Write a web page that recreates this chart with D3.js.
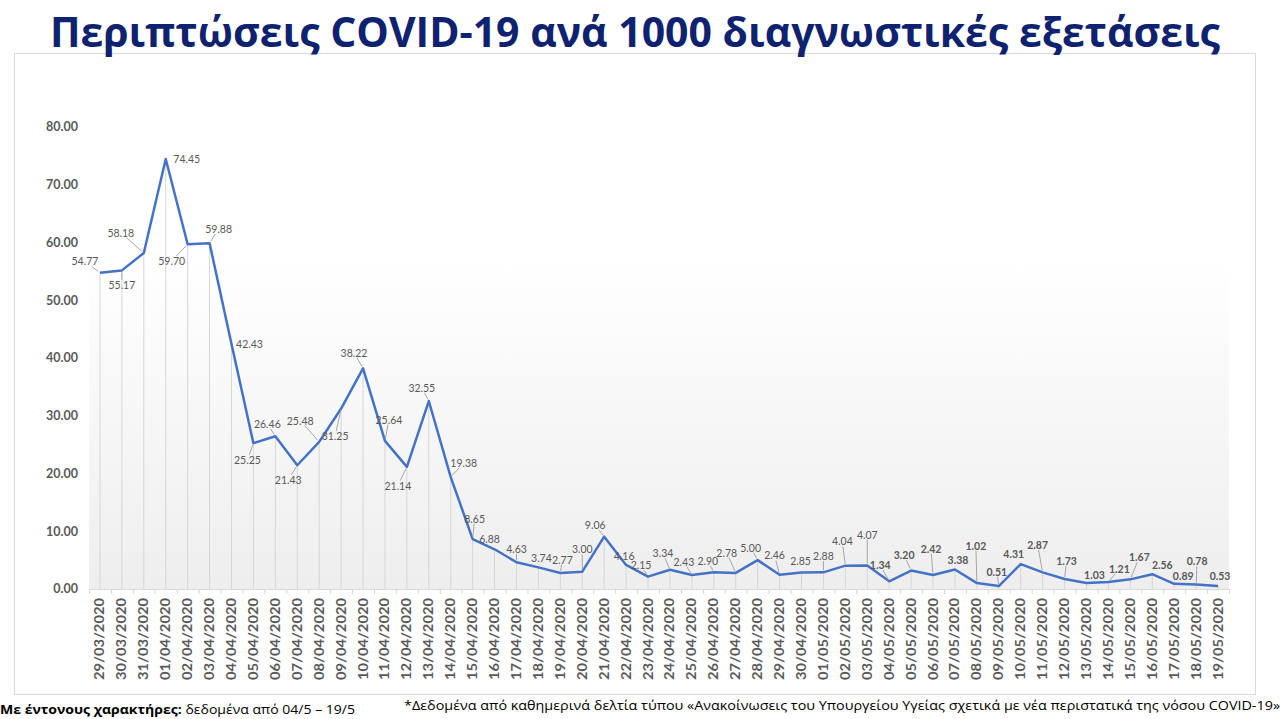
<!DOCTYPE html>
<html>
<head>
<meta charset="utf-8">
<script src="https://cdn.jsdelivr.net/npm/d3@7"></script>
<style>
  body { margin: 0; background: #fff; }
  svg { display: block; font-family: Lato, "Open Sans", "DejaVu Sans", sans-serif; }
</style>
</head>
<body>
<svg id="chart" width="1280" height="719"></svg>
<script>
// ========================
// Data
// ========================
const dates = [
    "29/03/2020", "30/03/2020", "31/03/2020",
    "01/04/2020", "02/04/2020", "03/04/2020", "04/04/2020", "05/04/2020", "06/04/2020",
    "07/04/2020", "08/04/2020", "09/04/2020", "10/04/2020", "11/04/2020", "12/04/2020",
    "13/04/2020", "14/04/2020", "15/04/2020", "16/04/2020", "17/04/2020", "18/04/2020",
    "19/04/2020", "20/04/2020", "21/04/2020", "22/04/2020", "23/04/2020", "24/04/2020",
    "25/04/2020", "26/04/2020", "27/04/2020", "28/04/2020", "29/04/2020", "30/04/2020",
    "01/05/2020", "02/05/2020", "03/05/2020", "04/05/2020", "05/05/2020", "06/05/2020",
    "07/05/2020", "08/05/2020", "09/05/2020", "10/05/2020", "11/05/2020", "12/05/2020",
    "13/05/2020", "14/05/2020", "15/05/2020", "16/05/2020", "17/05/2020", "18/05/2020",
    "19/05/2020"
];

const casesPer1000 = [
    54.77, 55.17, 58.18,
    74.45, 59.70, 59.88, 42.43, 25.25, 26.46,
    21.43, 25.48, 31.25, 38.22, 25.64, 21.14,
    32.55, 19.38, 8.65, 6.88, 4.63, 3.74,
    2.77, 3.00, 9.06, 4.16, 2.15, 3.34,
    2.43, 2.90, 2.78, 5.00, 2.46, 2.85,
    2.88, 4.04, 4.07, 1.34, 3.20, 2.42,
    3.38, 1.02, 0.51, 4.31, 2.87, 1.73,
    1.03, 1.21, 1.67, 2.56, 0.89, 0.78,
    0.53
];

const yTicks = [0, 10, 20, 30, 40, 50, 60, 70, 80];

// first date shown in bold labels
const boldFrom = "04/05/2020";

const titleText = "Περιπτώσεις COVID-19 ανά 1000 διαγνωστικές εξετάσεις";
const noteBold = "Με έντονους χαρακτήρες:";
const noteRest = " δεδομένα από 04/5 – 19/5";
const sourceText = "*Δεδομένα από καθημερινά δελτία τύπου «Ανακοίνωσεις του Υπουργείου Υγείας σχετικά με νέα περιστατικά της νόσου COVID-19»";

// label placement (dx, dy from the point, in px) - layout only
const labelOffsets = [
    [-15, -11], [0, 15], [-23, -20],
    [21, 0], [-16, 17], [9, -14], [18, 0], [-6, 17], [-8, -12],
    [-9, 15], [-19, -21], [-6, 28], [-9, -15], [4, -21], [-9, 19],
    [-7, -13], [13, -14], [2, -20], [-5, -10], [0, -13], [3, -9],
    [2, -13], [0, -22], [-9, -11], [-2, -9], [-7, -11], [-7, -16],
    [-8, -13], [-6, -11], [-9, -20], [-7, -12], [-5, -19], [-1, -11],
    [0, -16], [-3, -24], [0, -30], [-9, -16], [-7, -15], [-2, -26],
    [3, -9], [-1, -37], [-2, -14], [-7, -10], [-5, -27], [2, -18],
    [8, -8], [11, -13], [9, -22], [10, -9], [9, -8], [1, -23],
    [2, -10]
];

const points = dates.map((d, i) => ({ date: d, value: casesPer1000[i], i }));
const boldIndex = dates.indexOf(boldFrom);

// ========================
// Setup
// ========================
const svg = d3.select("#chart");
const textGrey = "#595959";

const x = d3.scaleBand()
    .domain(dates)
    .range([89, 1229]);

const y = d3.scaleLinear()
    .domain([0, 80])
    .range([589, 127]);

const cx = d => x(d.date) + x.bandwidth() / 2;
const cy = d => y(d.value);

// gradient for plot background
const defs = svg.append("defs");
const grad = defs.append("linearGradient")
    .attr("id", "bg")
    .attr("x1", 0).attr("y1", 0).attr("x2", 0).attr("y2", 1);
grad.append("stop").attr("offset", "0%").attr("stop-color", "#ffffff");
grad.append("stop").attr("offset", "30%").attr("stop-color", "#ffffff");
grad.append("stop").attr("offset", "100%").attr("stop-color", "#eeeeee");

// outer frame
svg.append("rect")
    .attr("x", 14.5).attr("y", 53.5)
    .attr("width", 1241).attr("height", 641)
    .attr("fill", "#fff")
    .attr("stroke", "#d9d9d9");

// plot area
svg.append("rect")
    .attr("x", x.range()[0]).attr("y", 120)
    .attr("width", x.range()[1] - x.range()[0])
    .attr("height", y(0) - 120)
    .attr("fill", "url(#bg)");

// Title
svg.append("text")
    .attr("x", 50).attr("y", 47)
    .attr("textLength", 1170)
    .attr("lengthAdjust", "spacingAndGlyphs")
    .style("font-family", "'Open Sans', sans-serif")
    .style("font-size", "42px")
    .style("font-weight", "bold")
    .style("fill", "#0e2270")
    .text(titleText);

// drop lines
svg.append("g")
    .selectAll("line")
    .data(points)
    .enter()
    .append("line")
    .attr("x1", cx).attr("x2", cx)
    .attr("y1", cy).attr("y2", y(0))
    .attr("stroke", "#d6d6d6")
    .attr("stroke-width", 1);

// Y axis labels
svg.append("g")
    .selectAll("text")
    .data(yTicks)
    .enter()
    .append("text")
    .attr("x", 78)
    .attr("y", d => y(d))
    .attr("dy", "0.35em")
    .attr("text-anchor", "end")
    .style("font-size", "12.5px")
    .style("font-weight", "bold")
    .style("fill", textGrey)
    .text(d => d.toFixed(2));

// X axis
const xAxis = svg.append("g")
    .attr("transform", `translate(0, ${y(0)})`);

xAxis.append("line")
    .attr("x1", x.range()[0]).attr("x2", x.range()[1])
    .attr("y1", 0.5).attr("y2", 0.5)
    .attr("stroke", "#d9d9d9");

xAxis.selectAll(".tick")
    .data(dates.concat(["end"]))
    .enter()
    .append("line")
    .attr("x1", (d, i) => x.range()[0] + i * x.step() + 0.5)
    .attr("x2", (d, i) => x.range()[0] + i * x.step() + 0.5)
    .attr("y1", 0).attr("y2", 5)
    .attr("stroke", "#d9d9d9");

xAxis.selectAll(".xl")
    .data(dates)
    .enter()
    .append("text")
    .attr("transform", d => `translate(${x(d) + x.bandwidth() / 2 + 4.5}, 9) rotate(-90)`)
    .attr("text-anchor", "end")
    .attr("textLength", 82)
    .attr("lengthAdjust", "spacingAndGlyphs")
    .style("font-size", "13.5px")
    .style("font-weight", "bold")
    .style("fill", textGrey)
    .text(d => d);

// line
const line = d3.line().x(cx).y(cy);
svg.append("path")
    .datum(points)
    .attr("d", line)
    .attr("fill", "none")
    .attr("stroke", "#4472c4")
    .attr("stroke-width", 2.5)
    .attr("stroke-linejoin", "round");

// data labels
const labelG = svg.append("g");
const leaderG = labelG.append("g");

const labels = labelG.selectAll(".lbl")
    .data(points)
    .enter()
    .append("text")
    .attr("x", d => cx(d) + labelOffsets[d.i][0])
    .attr("y", d => cy(d) + labelOffsets[d.i][1])
    .attr("dy", "0.35em")
    .attr("text-anchor", "middle")
    .style("font-size", "10.5px")
    .style("font-weight", d => d.i >= boldIndex ? "bold" : "normal")
    .style("fill", textGrey)
    .text(d => d.value.toFixed(2));

// leader lines for labels that sit away from their point
labels.each(function (d) {
    const b = this.getBBox();
    const px = cx(d), py = cy(d);
    const lx = b.x + b.width / 2, ly = b.y + b.height / 2;
    const hw = b.width / 2 + 1, hh = b.height / 2 - 1;
    const dx = px - lx, dy = py - ly;
    const t = Math.min(
        dx !== 0 ? hw / Math.abs(dx) : Infinity,
        dy !== 0 ? hh / Math.abs(dy) : Infinity
    );
    if (t >= 1) return;
    const sx = lx + dx * t, sy = ly + dy * t;
    const len = Math.hypot(px - sx, py - sy);
    if (len < 7) return;
    leaderG.append("line")
        .attr("x1", sx).attr("y1", sy)
        .attr("x2", px - (px - sx) / len * 2)
        .attr("y2", py - (py - sy) / len * 2)
        .attr("stroke", "#a6a6a6")
        .attr("stroke-width", 1);
});

// Footer notes
const note = svg.append("text")
    .attr("x", 0).attr("y", 714)
    .attr("textLength", 355)
    .attr("lengthAdjust", "spacingAndGlyphs")
    .style("font-family", "'Open Sans', sans-serif")
    .style("font-size", "13px")
    .style("fill", "#000");
note.append("tspan").style("font-weight", "bold").text(noteBold);
note.append("tspan").text(noteRest);

svg.append("text")
    .attr("x", 404).attr("y", 710)
    .attr("textLength", 876)
    .attr("lengthAdjust", "spacingAndGlyphs")
    .style("font-family", "'Open Sans', sans-serif")
    .style("font-size", "13px")
    .style("fill", "#000")
    .text(sourceText);
</script>
</body>
</html>
